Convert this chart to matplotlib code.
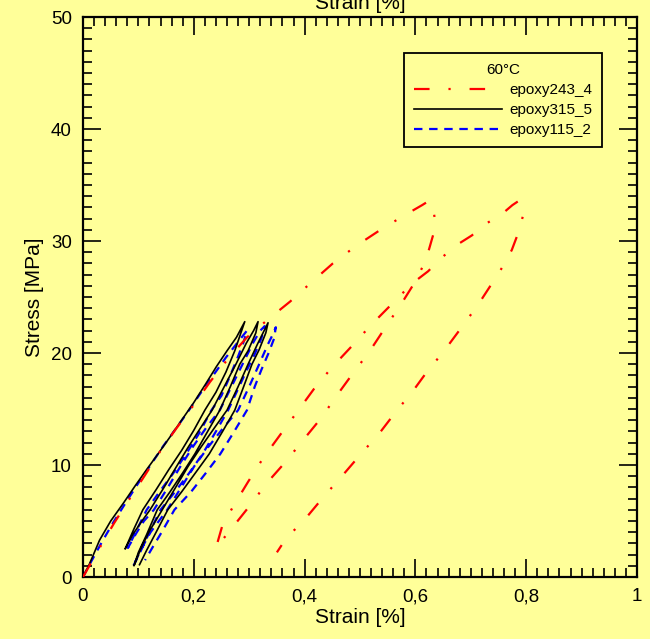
import matplotlib
matplotlib.use("Agg")
import matplotlib.pyplot as plt
from matplotlib.ticker import MultipleLocator, FixedLocator

plt.rcParams['font.family'] = ['Liberation Sans', 'DejaVu Sans']

# ---------------- data ----------------
legend_title = "60°C"
names = ["epoxy243_4", "epoxy315_5", "epoxy115_2"]

# epoxy243_4 (red)
red_strain = [0, 0.03, 0.056, 0.083, 0.112, 0.139, 0.166, 0.199, 0.229, 0.262, 0.296, 0.334,
              0.374, 0.412, 0.451, 0.494, 0.540, 0.584, 0.612, 0.625, 0.632, 0.637, 0.626, 0.619,
              0.600, 0.576, 0.546, 0.518, 0.486, 0.458, 0.430, 0.397, 0.366, 0.332, 0.300, 0.271, 0.240,
              0.251, 0.271, 0.298, 0.325, 0.356, 0.386, 0.417, 0.449, 0.485, 0.520, 0.558, 0.594,
              0.623, 0.643, 0.670, 0.702, 0.726, 0.756, 0.775, 0.787, 0.796, 0.787, 0.774, 0.760,
              0.742, 0.713, 0.682, 0.652, 0.619, 0.594, 0.567, 0.536, 0.502, 0.469, 0.435, 0.403,
              0.366, 0.350]
red_stress = [0, 2.6, 4.8, 6.9, 9.1, 11.2, 13.1, 15.3, 17.4, 19.5, 21.4, 23.0,
              24.6, 26.3, 28.0, 29.6, 31.1, 32.4, 33.2, 33.6, 32.9, 31.4, 29.5, 28.3,
              26.4, 24.5, 22.3, 20.2, 18.1, 16.2, 14.2, 12.2, 10.3, 8.4, 6.3, 4.5, 2.6,
              4.5, 6.3, 8.5, 10.6, 12.7, 14.7, 16.8, 18.7, 20.6, 22.5, 24.4, 26.2,
              27.3, 28.3, 29.5, 30.5, 31.5, 32.4, 33.2, 33.6, 32.6, 30.9, 29.2, 27.9,
              26.5, 24.3, 22.2, 20.2, 18.2, 16.5, 14.9, 12.9, 11.0, 9.1, 7.2, 5.3,
              3.4, 2.2]

# epoxy315_5 (black)
black_strain = [0, 0.012, 0.03, 0.05, 0.073, 0.095, 0.115, 0.137, 0.157, 0.178, 0.199, 0.221, 0.241, 0.260, 0.277, 0.292,
                0.285, 0.274, 0.258, 0.240, 0.220, 0.200, 0.178, 0.155, 0.132, 0.108, 0.092, 0.076,
                0.090, 0.105, 0.121, 0.145, 0.168, 0.190, 0.212, 0.233, 0.255, 0.276, 0.295, 0.308, 0.316,
                0.312, 0.298, 0.283, 0.266, 0.247, 0.225, 0.202, 0.180, 0.157, 0.134, 0.115, 0.100, 0.092,
                0.105, 0.120, 0.143, 0.166, 0.190, 0.213, 0.237, 0.260, 0.280, 0.298, 0.315, 0.327, 0.334,
                0.330, 0.318, 0.305, 0.290, 0.274, 0.252, 0.228, 0.203, 0.178, 0.153, 0.132, 0.115, 0.102]
black_stress = [0, 1.2, 3.3, 5.0, 6.6, 8.2, 9.6, 11.1, 12.5, 14.0, 15.5, 17.2, 18.8, 20.2, 21.4, 22.8,
                21.8, 20.2, 18.3, 16.5, 14.9, 13.1, 11.3, 9.6, 7.8, 6.0, 4.3, 2.5,
                3.8, 4.9, 6.0, 7.9, 9.8, 11.6, 13.3, 14.9, 17.0, 19.0, 20.9, 22.0, 22.8,
                21.8, 20.2, 19.0, 17.0, 14.9, 13.0, 11.0, 9.3, 7.6, 6.0, 3.8, 2.2, 1.0,
                2.6, 4.1, 6.0, 7.9, 9.9, 11.6, 13.3, 14.9, 17.0, 19.0, 20.8, 22.0, 22.7,
                21.8, 20.3, 19.0, 17.0, 14.9, 13.0, 11.0, 9.3, 7.6, 6.0, 4.0, 2.4, 1.1]

# epoxy115_2 (blue)
blue_strain = [0, 0.015, 0.035, 0.055, 0.078, 0.100, 0.122, 0.145, 0.167, 0.190, 0.212, 0.235, 0.258, 0.280, 0.296,
               0.290, 0.280, 0.265, 0.250, 0.232, 0.208, 0.185, 0.162, 0.138, 0.115, 0.098, 0.081,
               0.096, 0.110, 0.128, 0.152, 0.175, 0.198, 0.222, 0.247, 0.268, 0.290, 0.308, 0.320, 0.328,
               0.322, 0.310, 0.296, 0.280, 0.262, 0.240, 0.216, 0.192, 0.166, 0.140, 0.120, 0.104, 0.090,
               0.104, 0.122, 0.152, 0.176, 0.201, 0.226, 0.253, 0.280, 0.300, 0.318, 0.334, 0.344, 0.348,
               0.345, 0.335, 0.322, 0.310, 0.296, 0.273, 0.248, 0.222, 0.195, 0.165, 0.142, 0.125, 0.112]
blue_stress = [0, 1.4, 3.2, 4.9, 6.7, 8.4, 10.0, 11.7, 13.2, 14.8, 16.4, 18.0, 19.6, 21.0, 22.0,
               21.0, 19.7, 17.9, 16.2, 14.9, 12.7, 10.9, 9.2, 7.6, 6.0, 4.3, 2.6,
               3.9, 5.0, 6.0, 7.9, 9.8, 11.6, 13.3, 14.9, 17.0, 19.2, 21.0, 22.0, 22.4,
               21.3, 19.9, 18.5, 16.8, 14.9, 13.0, 11.0, 9.3, 7.6, 6.0, 4.0, 2.3, 0.9,
               2.4, 4.0, 6.0, 7.9, 9.9, 11.6, 13.3, 14.9, 17.0, 19.0, 20.8, 21.8, 22.3,
               21.3, 20.0, 18.5, 17.0, 14.9, 13.0, 11.0, 9.3, 7.6, 6.0, 4.0, 2.6, 1.5]

x_ticks = [0, 0.2, 0.4, 0.6, 0.8, 1.0]
x_ticklabels = ["0", "0,2", "0,4", "0,6", "0,8", "1"]
y_ticks = [0, 10, 20, 30, 40, 50]
y_ticklabels = ["0", "10", "20", "30", "40", "50"]

# ---------------- figure ----------------
bg = "#FFFF99"
fig = plt.figure(figsize=(6.5, 6.39), dpi=100, facecolor=bg)
ax = fig.add_axes([83/650, 1 - 577/639, (637 - 83)/650, (577 - 17)/639])
ax.set_facecolor(bg)

ax.plot(blue_strain, blue_stress, color="#0000FF", lw=1.6,
        linestyle=(0, (3.8, 3.0)), label=names[2], zorder=2)
ax.plot(black_strain, black_stress, color="black", lw=1.2, label=names[1], zorder=3)
ax.plot(red_strain, red_stress, color="#FF0000", lw=1.6,
        linestyle=(0, (7.0, 8.5, 1.0, 8.5)), label=names[0], zorder=4)

ax.set_xlim(0, 1)
ax.set_ylim(0, 50)
ax.xaxis.set_major_locator(FixedLocator(x_ticks))
ax.set_xticklabels(x_ticklabels)
ax.yaxis.set_major_locator(FixedLocator(y_ticks))
ax.set_yticklabels(y_ticklabels)
ax.xaxis.set_minor_locator(MultipleLocator(0.02))
ax.yaxis.set_minor_locator(MultipleLocator(1))
ax.tick_params(which="both", direction="in", top=True, right=True, width=1.2, color="black")
ax.tick_params(which="major", length=13, labelsize=13.5, pad=8)
ax.tick_params(which="minor", length=6.5)
for s in ax.spines.values():
    s.set_linewidth(1.6)

ax.set_xlabel("Strain [%]", fontsize=15, labelpad=2)
ax.set_ylabel("Stress [MPa]", fontsize=15, labelpad=5)
fig.text(0.5 * (83 + 637) / 650, 1 - 9/639, "Strain [%]", fontsize=15,
         ha="center", va="baseline")

handles, labels = ax.get_legend_handles_labels()
order = [2, 1, 0]
leg = ax.legend([handles[i] for i in order], [labels[i] for i in order],
                title=legend_title, title_fontsize=11, fontsize=11,
                loc="upper right", bbox_to_anchor=((602 - 83)/554, (577 - 53)/560),
                frameon=True, fancybox=False, facecolor=bg, edgecolor="black",
                framealpha=1, handlelength=5.8, handletextpad=0.45,
                labelspacing=0.4, borderpad=0.65, borderaxespad=0)
leg.get_frame().set_linewidth(1.3)

fig.savefig("out.png", dpi=100, facecolor=bg)
